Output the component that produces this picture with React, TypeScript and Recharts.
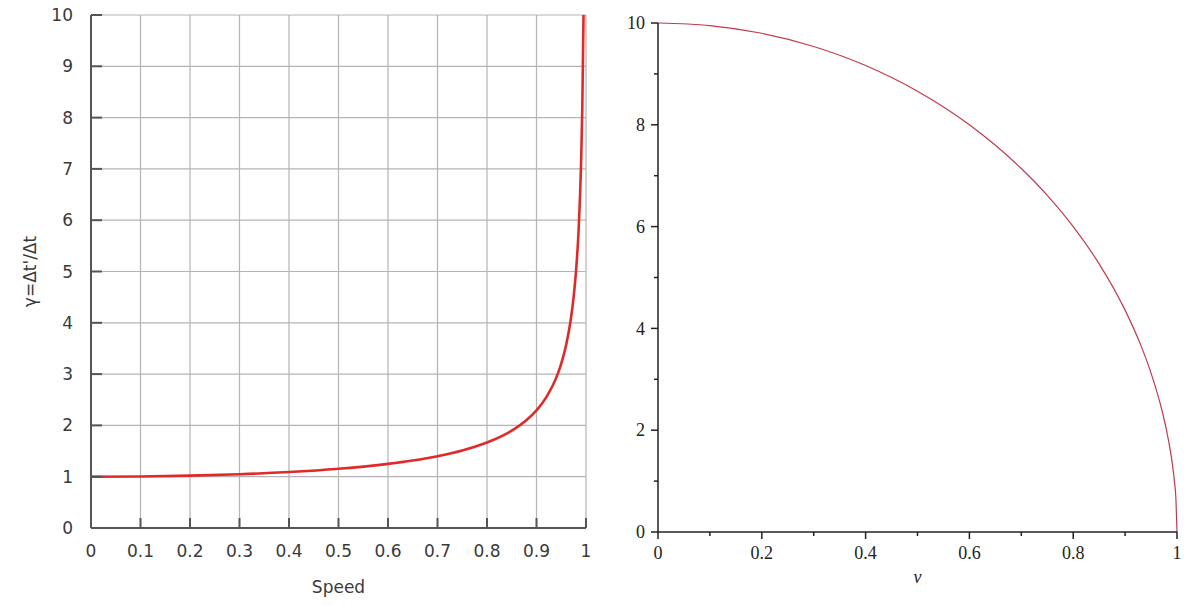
import { LineChart, Line, XAxis, YAxis, CartesianGrid } from "recharts"

// Left panel: Lorentz factor against speed (fraction of c)
const speeds = [0, 0.1, 0.2, 0.3, 0.4, 0.5, 0.6, 0.65, 0.7, 0.75, 0.8, 0.85, 0.88, 0.9, 0.92, 0.94, 0.95, 0.96, 0.97, 0.975, 0.98, 0.985, 0.99, 0.9925, 0.995]
const gammas = [1, 1.005, 1.021, 1.048, 1.091, 1.155, 1.25, 1.316, 1.4, 1.512, 1.667, 1.898, 2.105, 2.294, 2.552, 2.931, 3.203, 3.571, 4.113, 4.5, 5.025, 5.795, 7.089, 8.18, 10]
const leftXTicks = [0, 0.1, 0.2, 0.3, 0.4, 0.5, 0.6, 0.7, 0.8, 0.9, 1]
const leftYTicks = [0, 1, 2, 3, 4, 5, 6, 7, 8, 9, 10]

// Right panel: quarter circle
const vValues = [0, 0.1, 0.2, 0.3, 0.4, 0.5, 0.6, 0.7, 0.75, 0.8, 0.85, 0.9, 0.93, 0.95, 0.97, 0.98, 0.99, 0.995, 0.998, 1]
const heights = [10, 9.95, 9.798, 9.539, 9.165, 8.66, 8, 7.141, 6.614, 6, 5.268, 4.359, 3.676, 3.122, 2.431, 1.99, 1.411, 0.999, 0.632, 0]
const rightXTicks = [0, 0.1, 0.2, 0.3, 0.4, 0.5, 0.6, 0.7, 0.8, 0.9, 1]
const rightYTicks = [0, 1, 2, 3, 4, 5, 6, 7, 8, 9, 10]

const leftData = speeds.map((s, i) => ({ speed: s, gamma: gammas[i] }))
const rightData = vValues.map((v, i) => ({ v, h: heights[i] }))

const sansTick = { fontSize: 17, fill: "#3a3a3a", fontFamily: "DejaVu Sans" }
const serif = "Liberation Serif"

const RightYTick = (props: any) => {
  const { x, y, payload } = props
  const major = payload.value % 2 === 0
  return (
    <g>
      <line x1={x - (major ? 7 : 4)} x2={x} y1={y} y2={y} stroke="#222" strokeWidth={1.5} />
      {major && (
        <text x={x - 13} y={y} dy="0.34em" textAnchor="end" fontFamily={serif} fontSize={18} fill="#222">
          {payload.value}
        </text>
      )}
    </g>
  )
}

const RightXTick = (props: any) => {
  const { x, y, payload } = props
  const major = Math.round(payload.value * 10) % 2 === 0
  return (
    <g>
      <line x1={x} x2={x} y1={y} y2={y + (major ? 7 : 4)} stroke="#222" strokeWidth={1.5} />
      {major && (
        <text x={x} y={y + 27} textAnchor="middle" fontFamily={serif} fontSize={18} fill="#222">
          {payload.value}
        </text>
      )}
    </g>
  )
}

export default function App() {
  return (
    <div style={{ position: "absolute", left: 0, top: 0, width: 1200, height: 606, background: "#fff", display: "flex" }}>
      <LineChart width={600} height={606} data={leftData} margin={{ top: 15, right: 14, bottom: 0, left: 0 }}>
        <CartesianGrid stroke="#b4b4b4" strokeWidth={1.2} verticalPoints={undefined} />
        <XAxis
          type="number"
          dataKey="speed"
          domain={[0, 1]}
          ticks={leftXTicks}
          interval={0}
          height={78}
          tickSize={-10}
          tickMargin={27}
          tick={sansTick}
          axisLine={{ stroke: "#555", strokeWidth: 2 }}
          tickLine={{ stroke: "#555", strokeWidth: 2 }}
          label={{ value: "Speed", position: "insideBottom", offset: 13, fontSize: 17, fill: "#3a3a3a", fontFamily: "DejaVu Sans" }}
        />
        <YAxis
          type="number"
          domain={[0, 10]}
          ticks={leftYTicks}
          interval={0}
          width={91}
          tickSize={-11}
          tickMargin={29}
          tick={sansTick}
          axisLine={{ stroke: "#555", strokeWidth: 2 }}
          tickLine={{ stroke: "#555", strokeWidth: 2 }}
          label={{
            value: "γ=Δt'/Δt",
            angle: -90,
            position: "insideLeft",
            offset: 30,
            style: { textAnchor: "middle" },
            fontSize: 17,
            fill: "#3a3a3a",
            fontFamily: "DejaVu Sans",
          }}
        />
        <Line type="monotone" dataKey="gamma" stroke="#e02a2a" strokeWidth={2.6} dot={false} isAnimationActive={false} />
      </LineChart>
      <LineChart width={600} height={606} data={rightData} margin={{ top: 23, right: 23, bottom: 0, left: 0 }}>
        <XAxis
          type="number"
          dataKey="v"
          domain={[0, 1]}
          ticks={rightXTicks}
          interval={0}
          height={74}
          tickSize={0}
          tickMargin={0}
          tickLine={false}
          tick={<RightXTick />}
          axisLine={{ stroke: "#222", strokeWidth: 1.5 }}
          label={{ value: "v", position: "insideBottom", offset: 23, fontSize: 18, fill: "#222", fontFamily: serif, fontStyle: "italic" }}
        />
        <YAxis
          type="number"
          domain={[0, 10]}
          ticks={rightYTicks}
          interval={0}
          width={58}
          tickSize={0}
          tickMargin={0}
          tickLine={false}
          tick={<RightYTick />}
          axisLine={{ stroke: "#222", strokeWidth: 1.5 }}
        />
        <Line type="monotone" dataKey="h" stroke="#c23a4c" strokeWidth={1.2} dot={false} isAnimationActive={false} />
      </LineChart>
    </div>
  )
}
